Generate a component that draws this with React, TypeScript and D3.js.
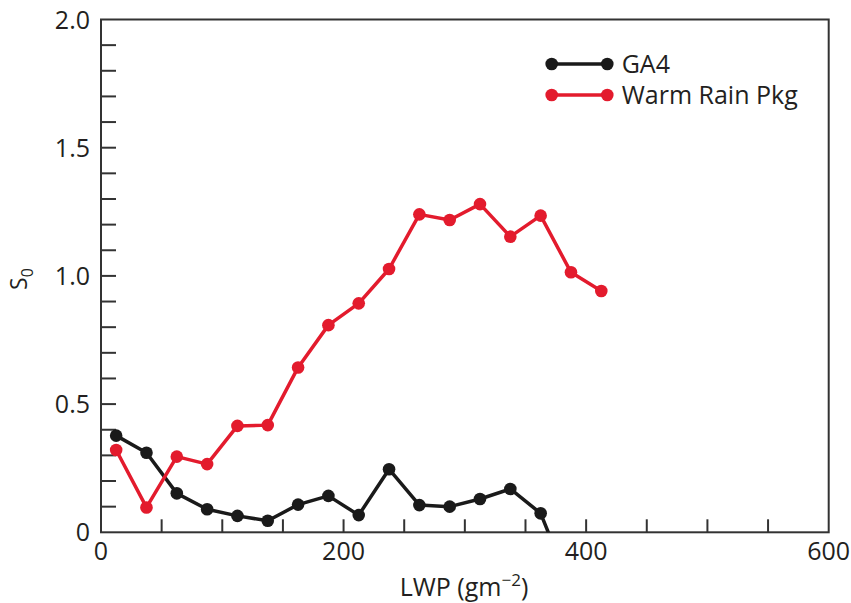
import React from "react";
import * as d3 from "d3";

const lwp = [12.5, 37.5, 62.5, 87.5, 112.5, 137.5, 162.5, 187.5, 212.5, 237.5, 262.5, 287.5, 312.5, 337.5, 362.5, 387.5, 412.5];
const ga4 = [0.377, 0.31, 0.152, 0.09, 0.064, 0.045, 0.108, 0.142, 0.067, 0.246, 0.106, 0.1, 0.13, 0.169, 0.074, -0.22];
const warmRain = [0.321, 0.097, 0.295, 0.266, 0.415, 0.418, 0.643, 0.808, 0.893, 1.027, 1.24, 1.218, 1.28, 1.153, 1.235, 1.014, 0.941];

const xTickLabels = [0, 200, 400, 600];
const yTickLabels = [0, 0.5, 1.0, 1.5, 2.0];
const xMinorTicks = [50, 100, 150, 200, 250, 300, 350, 400, 450, 500, 550];
const yMinorTicks = [0.1, 0.2, 0.3, 0.4, 0.5, 0.6, 0.7, 0.8, 0.9, 1.0, 1.1, 1.2, 1.3, 1.4, 1.5, 1.6, 1.7, 1.8, 1.9];

const seriesNames = ["GA4", "Warm Rain Pkg"];
const seriesColors = ["#1a1a1a", "#e31b2d"];

const FONT = "'Open Sans', sans-serif";
const TEXT = "#231f20";

export default function App() {
  const left = 101, right = 828.7, top = 19.5, bottom = 532.3;
  const x = d3.scaleLinear().domain([0, 600]).range([left, right]);
  const y = d3.scaleLinear().domain([0, 2]).range([bottom, top]);
  const series = [
    ga4.map((v, i) => [lwp[i], v] as [number, number]),
    warmRain.map((v, i) => [lwp[i], v] as [number, number]),
  ];
  const line = d3.line<[number, number]>().x(d => x(d[0])).y(d => y(d[1]));
  const axisColor = "#333";
  const fs = 25;

  return (
    <svg width={851} height={603} style={{ position: "absolute", left: 0, top: 0, background: "#fff" }}>
      <defs>
        <clipPath id="plotClip">
          <rect x={left} y={top - 10} width={right - left + 10} height={bottom - top + 10} />
        </clipPath>
      </defs>
      <rect x={left} y={top} width={right - left} height={bottom - top} fill="none" stroke={axisColor} strokeWidth={2} />
      {yMinorTicks.map(t => (
        <line key={"yt" + t} x1={left} x2={left + 15} y1={y(t)} y2={y(t)} stroke={axisColor} strokeWidth={2} />
      ))}
      {xMinorTicks.map(t => (
        <line key={"xt" + t} x1={x(t)} x2={x(t)} y1={bottom} y2={bottom - 13} stroke={axisColor} strokeWidth={2} />
      ))}
      {yTickLabels.map(t => (
        <text key={"yl" + t} x={left - 11} y={y(t)} dy="0.36em" textAnchor="end" fontFamily={FONT} fontSize={fs} fill={TEXT}>
          {t === 0 ? "0" : t.toFixed(1)}
        </text>
      ))}
      {xTickLabels.map(t => (
        <text key={"xl" + t} x={x(t)} y={560} textAnchor="middle" fontFamily={FONT} fontSize={fs} fill={TEXT}>
          {t}
        </text>
      ))}
      <text x={464} y={596} textAnchor="middle" fontFamily={FONT} fontSize={fs} fill={TEXT}>
        LWP (gm<tspan fontSize={17} dy={-10}>−2</tspan><tspan dy={10}>)</tspan>
      </text>
      <text transform="translate(27,279) rotate(-90)" textAnchor="middle" fontFamily={FONT} fontSize={23} fill={TEXT}>
        S<tspan fontSize={16} dy={6}>0</tspan>
      </text>
      <g clipPath="url(#plotClip)">
        {series.map((s, si) => (
          <g key={"s" + si}>
            <path d={line(s) || ""} fill="none" stroke={seriesColors[si]} strokeWidth={3.5} strokeLinejoin="round" />
            {s.filter(d => d[1] >= 0).map((d, i) => (
              <circle key={i} cx={x(d[0])} cy={y(d[1])} r={6.3} fill={seriesColors[si]} />
            ))}
          </g>
        ))}
      </g>
      {seriesNames.map((n, i) => {
        const ly = 64 + i * 31;
        return (
          <g key={"lg" + i}>
            <line x1={551.7} x2={607.3} y1={ly} y2={ly} stroke={seriesColors[i]} strokeWidth={3.5} />
            <circle cx={551.7} cy={ly} r={6.3} fill={seriesColors[i]} />
            <circle cx={607.3} cy={ly} r={6.3} fill={seriesColors[i]} />
            <text x={621.7} y={ly} dy="0.36em" fontFamily={FONT} fontSize={fs} fill={TEXT}>{n}</text>
          </g>
        );
      })}
    </svg>
  );
}
